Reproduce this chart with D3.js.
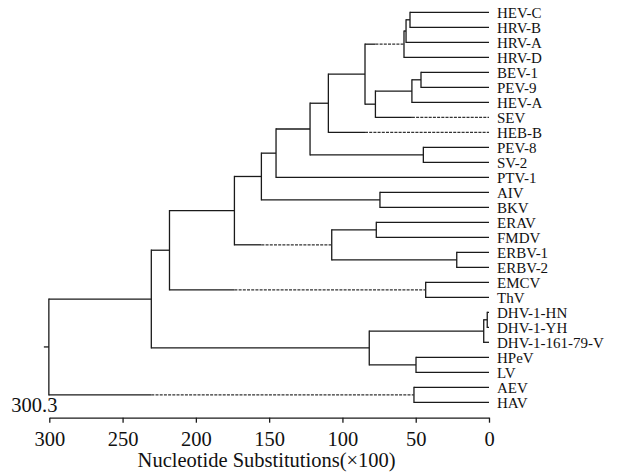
<!DOCTYPE html>
<html>
<head>
<meta charset="utf-8">
<script src="https://cdn.jsdelivr.net/npm/d3@7"></script>
<style>
  body { margin: 0; background: #fff; }
  svg { display: block; }
  svg text { font-family: "Liberation Serif", "Times New Roman", serif; }
  .branch { stroke: #1a1a1a; stroke-width: 1.3; fill: none; }
  .branch-dashed { stroke: #333; stroke-width: 1.3; stroke-dasharray: 3 1.2; fill: none; }
  .leaf-label { font-size: 15px; fill: #111; }
</style>
</head>
<body>
<div id="treeWrapper"></div>
<script>

// leaves, top to bottom
const leafNames = [
  "HEV-C", "HRV-B", "HRV-A", "HRV-D", "BEV-1", "PEV-9", "HEV-A", "SEV", "HEB-B",
  "PEV-8", "SV-2", "PTV-1", "AIV", "BKV", "ERAV", "FMDV", "ERBV-1", "ERBV-2",
  "EMCV", "ThV", "DHV-1-HN", "DHV-1-YH", "DHV-1-161-79-V", "HPeV", "LV", "AEV", "HAV"
]

// joins: [id, upper child, lower child, height]
const merges = [
  ["m1", "HEV-C", "HRV-B", 53.9],
  ["m2", "m1", "HRV-A", 56.6],
  ["m3", "m2", "HRV-D", 58.0],
  ["m4", "BEV-1", "PEV-9", 46.4],
  ["m5", "m4", "HEV-A", 52.6],
  ["m6", "m5", "SEV", 77.5],
  ["m7", "m3", "m6", 84.6],
  ["m8", "m7", "HEB-B", 109.6],
  ["m9", "PEV-8", "SV-2", 44.8],
  ["m10", "m8", "m9", 122.1],
  ["m11", "m10", "PTV-1", 145.3],
  ["m12", "AIV", "BKV", 74.4],
  ["m13", "m11", "m12", 155.3],
  ["m14", "ERAV", "FMDV", 76.9],
  ["m15", "ERBV-1", "ERBV-2", 22.0],
  ["m16", "m14", "m15", 107.3],
  ["m17", "m13", "m16", 173.7],
  ["m18", "EMCV", "ThV", 43.2],
  ["m19", "m17", "m18", 218.0],
  ["m20", "DHV-1-HN", "DHV-1-YH", 1.2],
  ["m21", "m20", "DHV-1-161-79-V", 3.6],
  ["m22", "HPeV", "LV", 49.8],
  ["m23", "m21", "m22", 81.7],
  ["m24", "m19", "m23", 230.4],
  ["m25", "AEV", "HAV", 51.2],
  ["m26", "m24", "m25", 300.3]
]

// branches drawn broken (dashed past the sibling's join)
const dashedBranches = ["m3", "SEV", "HEB-B", "m16", "m18", "m25"]

const axisTicks = [300, 250, 200, 150, 100, 50, 0]
const rootLabel = "300.3"
const axisTitle = "Nucleotide Substitutions(×100)"

const serif = "'Liberation Serif', 'Times New Roman', serif"

function drawChart() {

  // 1. Build tree
  const nodeById = {}
  leafNames.forEach(name => nodeById[name] = { id: name, height: 0 })
  merges.forEach(([id, a, b, h]) => {
    nodeById[id] = { id: id, height: h, children: [nodeById[a], nodeById[b]] }
  })
  const root = d3.hierarchy(nodeById[merges[merges.length - 1][0]])

  // 2. Dimensions
  let dimensions = {
    width: 622,
    height: 475,
    margin: { top: 12.3, right: 133, bottom: 72.7, left: 49.3 },
  }
  dimensions.boundedRight = dimensions.width - dimensions.margin.right
  dimensions.boundedBottom = dimensions.height - dimensions.margin.bottom

  // 3. Scales
  const xScale = d3.scaleLinear()
    .domain([300, 0])
    .range([dimensions.margin.left, dimensions.boundedRight])

  const yScale = d3.scalePoint()
    .domain(leafNames)
    .range([dimensions.margin.top, dimensions.boundedBottom])

  root.eachAfter(d => {
    d.y = d.children ? d3.mean(d.children, c => c.y) : yScale(d.data.id)
    d.x = xScale(d.data.height)
  })

  // 4. Canvas
  const wrapper = d3.select("#treeWrapper")
    .append("svg")
      .attr("width", dimensions.width)
      .attr("height", dimensions.height)
      .attr("font-family", serif)

  const links = wrapper.append("g").attr("id", "link-layer")

  // verticals
  links.selectAll(".vline")
    .data(root.descendants().filter(d => d.children))
    .join("line")
      .attr("class", "branch vline")
      .attr("x1", d => d.x).attr("x2", d => d.x)
      .attr("y1", d => d.children[0].y - 0.65)
      .attr("y2", d => d.children[1].y + 0.65)

  // horizontals
  root.descendants().filter(d => d.parent).forEach(d => {
    const x0 = d.parent.x
    if (dashedBranches.includes(d.data.id)) {
      const sibling = d.parent.children.find(c => c !== d)
      links.append("line").attr("class", "branch")
        .attr("x1", x0).attr("x2", sibling.x).attr("y1", d.y).attr("y2", d.y)
      links.append("line").attr("class", "branch-dashed")
        .attr("x1", sibling.x).attr("x2", d.x).attr("y1", d.y).attr("y2", d.y)
    } else {
      links.append("line").attr("class", "branch")
        .attr("x1", x0).attr("x2", d.x).attr("y1", d.y).attr("y2", d.y)
    }
  })

  // root stub
  links.append("line").attr("class", "branch")
    .attr("x1", root.x - 5).attr("x2", root.x)
    .attr("y1", root.y).attr("y2", root.y)

  // 5. Labels
  wrapper.append("g")
    .selectAll("text")
    .data(root.leaves())
    .join("text")
      .attr("class", "leaf-label")
      .attr("x", d => d.x + 8)
      .attr("y", d => d.y)
      .attr("dy", "0.35em")
      .text(d => d.data.id)

  wrapper.append("text")
    .attr("x", root.x - 37.5)
    .attr("y", dimensions.boundedBottom + 9.5)
    .style("font-size", "20.5px")
    .attr("fill", "#111")
    .text(rootLabel)

  // 6. Axis
  const axisY = dimensions.boundedBottom + 15.4
  const xAxis = wrapper.append("g")
    .attr("transform", `translate(0, ${axisY})`)
    .call(d3.axisBottom(xScale).tickValues(axisTicks).tickSize(5).tickSizeOuter(0))
    .attr("font-family", serif)

  xAxis.select(".domain").attr("stroke", "#1a1a1a").attr("stroke-width", 1.3)
  xAxis.selectAll(".tick line").attr("stroke", "#1a1a1a").attr("stroke-width", 1.3)
  xAxis.selectAll(".tick text")
    .attr("y", 28)
    .attr("dy", 0)
    .attr("fill", "#111")
    .style("font-size", "20.5px")

  wrapper.append("text")
    .attr("x", (xScale.range()[0] + xScale.range()[1]) / 2 - 2.5)
    .attr("y", axisY + 49.5)
    .attr("text-anchor", "middle")
    .attr("fill", "#111")
    .style("font-size", "20.5px")
    .text(axisTitle)
}

drawChart()
</script>
</body>
</html>
